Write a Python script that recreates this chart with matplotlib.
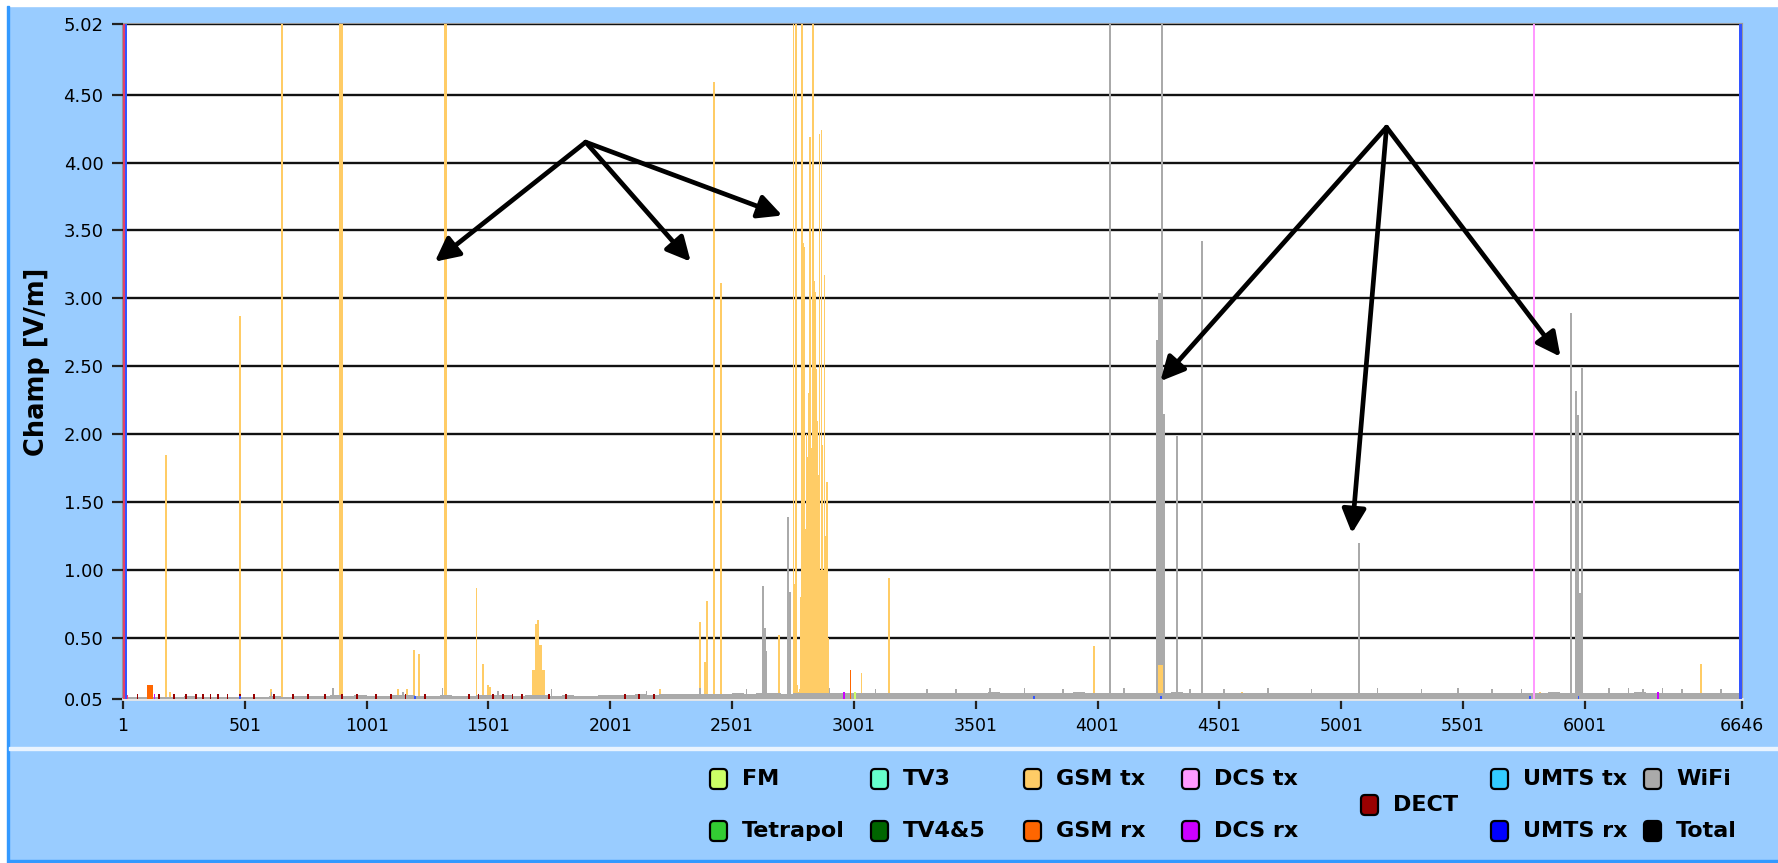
import numpy as np
import matplotlib
matplotlib.use('Agg')
import matplotlib.pyplot as plt
from matplotlib.patches import Rectangle, FancyBboxPatch

# Samples 1..6646, field values in V/m
n_samples = 6646
y_min, y_max = 0.05, 5.02

# GSM tx single spikes
gsm_tx_idx = [177, 194, 481, 607, 655, 1129, 1166, 1195, 1215, 1452, 1479, 1500, 1509,
              2204, 2368, 2389, 2399, 2428, 2455, 2693, 3032, 3144, 3988, 4593, 5680,
              5816, 6479]
gsm_tx_val = [1.85, 0.10, 2.87, 0.12, 5.02, 0.12, 0.12, 0.41, 0.38, 0.87, 0.31, 0.15, 0.14,
              0.12, 0.62, 0.32, 0.77, 4.59, 3.11, 0.52, 0.24, 0.94, 0.44, 0.10, 0.09,
              0.10, 0.31]
# GSM tx wide bands: start, end, value
gsm_tx_band_start = [889, 1317, 1678, 1690, 1700, 1710, 1720, 4250]
gsm_tx_band_end = [906, 1331, 1690, 1700, 1710, 1720, 1732, 4270]
gsm_tx_band_val = [5.02, 5.02, 0.26, 0.60, 0.63, 0.45, 0.26, 0.30]
# GSM tx burst around sample 2752, one value per 4 samples
burst_start = 2752
burst_val = [5.02, 0.90, 5.02, 5.02, 0.15, 0.10, 0.12, 0.80, 5.02, 5.02,
             3.41, 3.38, 1.30, 2.00, 1.83, 2.30, 4.19, 4.19, 1.90, 5.02,
             5.02, 3.13, 3.05, 2.48, 2.10, 1.70, 4.21, 1.00, 4.24, 1.30,
             1.92, 1.00, 3.17, 1.25, 1.65, 1.65, 0.50]

# WiFi spikes and bands
wifi_idx = [2628, 2637, 2641, 2731, 2739, 4052, 4265, 4328, 4431, 5073,
            5945, 5963, 5972, 5982, 5990]
wifi_val = [0.88, 0.57, 0.40, 1.39, 0.84, 5.02, 5.02, 1.99, 3.42, 1.20,
            2.89, 2.32, 2.14, 0.83, 2.49]
wifi_band_start = [4242, 4250, 4264]
wifi_band_end = [4250, 4264, 4277]
wifi_band_val = [2.69, 3.04, 2.15]
# WiFi noise floor, one value per 50 samples
wifi_floor = [
    0.062, 0.064, 0.068, 0.066, 0.064, 0.069, 0.066, 0.065, 0.068, 0.066,
    0.067, 0.065, 0.070, 0.067, 0.072, 0.075, 0.072, 0.076, 0.074, 0.078,
    0.075, 0.073, 0.077, 0.079, 0.075, 0.072, 0.077, 0.075, 0.073, 0.078,
    0.076, 0.080, 0.075, 0.076, 0.078, 0.074, 0.077, 0.072, 0.075, 0.078,
    0.080, 0.082, 0.085, 0.083, 0.087, 0.084, 0.088, 0.086, 0.090, 0.087,
    0.091, 0.088, 0.092, 0.094, 0.090, 0.096, 0.093, 0.091, 0.095, 0.092,
    0.094, 0.091, 0.096, 0.093, 0.095, 0.092, 0.097, 0.094, 0.092, 0.096,
    0.093, 0.098, 0.095, 0.092, 0.097, 0.094, 0.096, 0.093, 0.098, 0.095,
    0.092, 0.096, 0.094, 0.097, 0.093, 0.095, 0.098, 0.094, 0.092, 0.096,
    0.094, 0.097, 0.093, 0.095, 0.092, 0.096, 0.094, 0.091, 0.095, 0.093,
    0.096, 0.092, 0.094, 0.097, 0.093, 0.091, 0.095, 0.092, 0.096, 0.094,
    0.093, 0.097, 0.094, 0.092, 0.096, 0.093, 0.095, 0.098, 0.094, 0.092,
    0.096, 0.093, 0.097, 0.095, 0.098, 0.094, 0.092, 0.096, 0.093, 0.095,
    0.094, 0.092, 0.095]
noise_idx = [330, 610, 862, 1150, 1313, 1540, 1760, 2150, 2370, 2560, 2900, 3090,
             3300, 3420, 3560, 3700, 3860, 4110, 4380, 4520, 4700, 4880, 5150,
             5330, 5480, 5620, 5740, 6100, 6180, 6240, 6320, 6400, 6560]
noise_val = [0.09, 0.10, 0.13, 0.10, 0.13, 0.11, 0.12, 0.11, 0.13, 0.12, 0.13, 0.12,
             0.12, 0.12, 0.13, 0.13, 0.12, 0.13, 0.12, 0.12, 0.13, 0.12, 0.13,
             0.12, 0.13, 0.12, 0.12, 0.13, 0.13, 0.12, 0.13, 0.12, 0.12]

# other services
dect_idx = [60, 150, 210, 260, 300, 330, 360, 390, 430, 480, 540, 620, 700, 760,
            830, 900, 960, 1040, 1100, 1160, 1240, 1420, 1460, 1520, 1560, 1600,
            1640, 1750, 1820, 2060, 2120, 2180, 5791]
dect_val = [0.085] * 32 + [0.37]
gsm_rx_band = (98, 125, 0.15)
gsm_rx_idx = [2987]
gsm_rx_val = [0.26]
dcs_tx_idx = [5791]
dcs_tx_val = [5.02]
dcs_tx_band = (1, 20, 0.08)
dcs_rx_idx = [130, 2960, 6300]
dcs_rx_val = [0.09, 0.10, 0.10]
umts_rx_idx = [480, 1200, 3740, 4262, 5775, 5975]
umts_rx_val = [0.07, 0.07, 0.07, 0.07, 0.07, 0.07]
# first and last samples reach full scale
edge_red = (1, 9, 5.02)
edge_band_start = [9, 6634]
edge_band_end = [18, 6646]
edge_band_val = [5.02, 5.02]
fm_idx = [3005]
fm_val = [0.10]

x_ticks = [1, 501, 1001, 1501, 2001, 2501, 3001, 3501, 4001, 4501, 5001, 5501, 6001, 6646]
y_ticks = [0.05, 0.50, 1.00, 1.50, 2.00, 2.50, 3.00, 3.50, 4.00, 4.50, 5.02]

legend_labels = ['FM', 'Tetrapol', 'TV3', 'TV4&5', 'GSM tx', 'GSM rx', 'DCS tx',
                 'DCS rx', 'DECT', 'UMTS tx', 'UMTS rx', 'WiFi', 'Total']
legend_colors = ['#CCFF66', '#33CC33', '#66FFCC', '#006600', '#FFCC66', '#FF6600',
                 '#FF99FF', '#CC00FF', '#990000', '#33CCFF', '#0000FF', '#AAAAAA',
                 '#000000']
col = dict(zip(legend_labels, legend_colors))

# arrows: apex -> tips, in data units
arrow_apex = [(1900, 4.15), (1900, 4.15), (1900, 4.15),
              (5187, 4.26), (5187, 4.26), (5187, 4.26)]
arrow_tip = [(1281, 3.27), (2331, 3.27), (2707, 3.61),
             (4259, 2.39), (5045, 1.27), (5901, 2.57)]

W, H = 1778, 863
fig = plt.figure(figsize=(W / 100, H / 100), dpi=100)
fig.patch.set_facecolor('#99CCFF')

# frame decorations in pixel units
bg = fig.add_axes([0, 0, 1, 1], zorder=0)
bg.set_xlim(0, W)
bg.set_ylim(H, 0)
bg.axis('off')
bg.add_patch(Rectangle((0, 0), W, 6, color='white'))
bg.add_patch(Rectangle((0, 0), 7, H, color='white'))
bg.add_patch(Rectangle((7, 6), 2, H, color='#3399FF'))
bg.add_patch(Rectangle((9, 747), W, 3, color='#EAF4FF'))
bg.add_patch(Rectangle((9, 860), W, 3, color='#3399FF'))


def spikes(ax, idx, val, color, z, w=8):
    ax.bar(idx, np.array(val) - y_min, width=w, bottom=y_min, color=color,
           linewidth=0, zorder=z)


def bands(ax, start, end, val, color, z):
    ax.bar(start, np.array(val) - y_min, width=np.array(end) - np.array(start),
           bottom=y_min, align='edge', color=color, linewidth=0, zorder=z)


ax = fig.add_axes([123 / W, 1 - 699 / H, (1742 - 123) / W, (699 - 24) / H], zorder=1)
ax.set_facecolor('white')

spikes(ax, wifi_idx, wifi_val, col['WiFi'], 2)
bands(ax, wifi_band_start, wifi_band_end, wifi_band_val, col['WiFi'], 2)
spikes(ax, gsm_tx_idx, gsm_tx_val, col['GSM tx'], 3)
bands(ax, gsm_tx_band_start, gsm_tx_band_end, gsm_tx_band_val, col['GSM tx'], 3)
burst_x = burst_start + 4 * np.arange(len(burst_val))
bands(ax, burst_x, burst_x + 4, burst_val, col['GSM tx'], 3)
floor_x = 1 + 50 * np.arange(len(wifi_floor))
bands(ax, floor_x, np.minimum(floor_x + 50, n_samples), wifi_floor, col['WiFi'], 4)
spikes(ax, noise_idx, noise_val, col['WiFi'], 4, w=6)
spikes(ax, dect_idx, dect_val, col['DECT'], 5, w=7)
bands(ax, [gsm_rx_band[0]], [gsm_rx_band[1]], [gsm_rx_band[2]], col['GSM rx'], 5)
spikes(ax, gsm_rx_idx, gsm_rx_val, col['GSM rx'], 5)
spikes(ax, dcs_tx_idx, dcs_tx_val, col['DCS tx'], 5)
bands(ax, [dcs_tx_band[0]], [dcs_tx_band[1]], [dcs_tx_band[2]], '#FF3377', 5)
spikes(ax, dcs_rx_idx, dcs_rx_val, col['DCS rx'], 6, w=7)
spikes(ax, umts_rx_idx, umts_rx_val, '#3355FF', 6, w=7)
bands(ax, edge_band_start, edge_band_end, edge_band_val, '#3355FF', 6)
bands(ax, [edge_red[0]], [edge_red[1]], [edge_red[2]], '#E0406A', 6)
spikes(ax, fm_idx, fm_val, col['FM'], 6, w=7)

ax.set_xlim(1, n_samples)
ax.set_ylim(y_min, y_max)
ax.set_yticks(y_ticks)
ax.set_yticklabels(['%.2f' % v for v in y_ticks])
ax.set_xticks(x_ticks)
ax.set_xticklabels([str(v) for v in x_ticks])
for v in y_ticks:
    ax.axhline(v, color='#111111', lw=1.7, zorder=1)
ax.tick_params(axis='y', direction='out', length=8, width=1.6, color='#222222',
               labelsize=13, pad=6)
ax.tick_params(axis='x', direction='out', length=7, width=1.6, color='#222222',
               labelsize=12.5, pad=6)
for side in ['top', 'left', 'right']:
    ax.spines[side].set_color('#999999')
    ax.spines[side].set_linewidth(1.5)
    ax.spines[side].set_zorder(0.5)
ax.spines['bottom'].set_color('#E8E8E8')
ax.spines['bottom'].set_linewidth(2)
ax.set_ylabel('Champ [V/m]', fontsize=18.5, fontweight='bold', labelpad=10)

for (ax0, ay0), (ax1, ay1) in zip(arrow_apex, arrow_tip):
    ax.annotate('', xy=(ax1, ay1), xytext=(ax0, ay0),
                arrowprops=dict(arrowstyle='-|>', color='black', lw=3.4,
                                mutation_scale=36, shrinkA=0, shrinkB=0),
                zorder=8)

# legend panel
col_x = [718, 879, 1032, 1190, 1369, 1499, 1652]
row_y = [779, 831]
pos = []
for c in range(7):
    if c == 4:
        pos.append((col_x[c], 805))
    else:
        pos.append((col_x[c], row_y[0]))
        pos.append((col_x[c], row_y[1]))
for (cx, cy), lab, colr in zip(pos, legend_labels, legend_colors):
    bg.add_patch(FancyBboxPatch((cx - 8, cy - 10), 17, 20,
                                boxstyle='round,pad=0,rounding_size=4',
                                fc=colr, ec='black', lw=1.6))
    bg.text(cx + 24, cy, lab, fontsize=16, fontweight='bold', va='center', ha='left')

fig.savefig('out.png', dpi=100, facecolor=fig.get_facecolor())
